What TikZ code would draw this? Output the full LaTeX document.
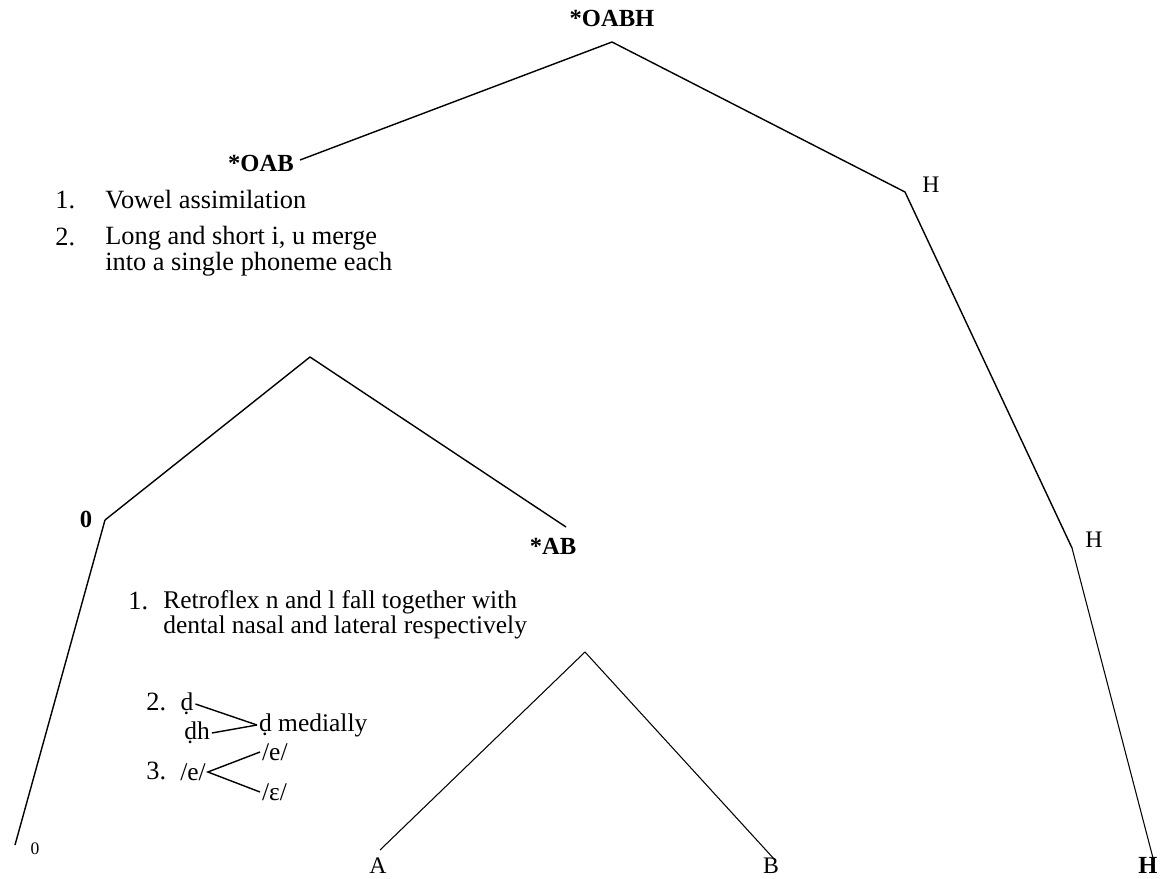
\documentclass[tikz,border=0pt]{standalone}
\usepackage{fontspec}
\setmainfont{Liberation Serif}
\usetikzlibrary{positioning}

\begin{document}
\begin{tikzpicture}[
        x=0.02cm, y=-0.02cm,
        branch/.style={thick, line join=round},
        twig/.style={semithick},
        lbl/.style={inner sep=1pt, font=\fontsize{13.5}{12}\selectfont},
        blbl/.style={inner sep=1pt, font=\fontsize{14}{12}\selectfont\bfseries},
        note/.style={anchor=west, align=left, inner sep=0pt, font=\fontsize{15}{13}\selectfont},
        phon/.style={inner sep=1pt, font=\fontsize{14.5}{12}\selectfont}
    ]
    \useasboundingbox (0,0) rectangle (1160,879);

    % Junctions of the tree
    \coordinate (root) at (612,42);
    \coordinate (oabend) at (300,160);
    \coordinate (h1) at (905,192);
    \coordinate (h2) at (1072,548);
    \coordinate (h3) at (1153,858);
    \coordinate (oab) at (310,357);
    \coordinate (zero) at (105,520);
    \coordinate (abend) at (566,527);
    \coordinate (oend) at (15,845);
    \coordinate (ab) at (585,652);
    \coordinate (aend) at (380,850);
    \coordinate (bend) at (775,860);

    % Labels
    \node[blbl] (oabhlbl) at (612,18) {*OABH};
    \node[blbl] (oablbl) at (261,163) {*OAB};
    \node[lbl] (h1lbl) at (931,185) {H};
    \node[lbl] (h2lbl) at (1094,540) {H};
    \node[blbl] (h3lbl) at (1148,865) {H};
    \node[blbl] (zerolbl) at (86,519) {0};
    \node[blbl] (ablbl) at (553,546) {*AB};
    \node[inner sep=1pt, font=\fontsize{10}{10}\selectfont] (olbl) at (35,849) {0};
    \node[lbl] (albl) at (378,866) {A};
    \node[lbl] (blbl) at (771,866) {B};

    % Branches
    \draw[branch] (oabend) -- (root) -- (h1) -- (h2);
    \draw[twig] (h2) -- (h3);
    \draw[branch] (zero) -- (oab) -- (abend);
    \draw[branch] (oend) -- (zero);
    \draw[twig] (aend) -- (ab) -- (bend);

    % Changes from *OAB
    \node[note] (num1) at (55,200) {1.};
    \node[note] (vowel) at (105,200) {Vowel assimilation};
    \node[note] (num2) at (55,237) {2.};
    \node[note, anchor=north west] (merge) at (105,226) {Long and short i, u merge\\into a single phoneme each};

    % Changes from *AB
    \node[note] (numa) at (128,601) {1.};
    \node[note, anchor=north west, font=\fontsize{14.5}{13}\selectfont] (retro) at (163,590) {Retroflex n and l fall together with\\dental nasal and lateral respectively};
    \node[note] (numb) at (146,702) {2.};
    \node[phon] (dd) at (187,704) {\d{d}};
    \node[phon] (ddh) at (197,733) {\d{d}h};
    \node[phon, anchor=west] (ddmed) at (257,725) {\d{d} medially};
    \draw[thick] (dd.east) -- (ddmed.west);
    \draw[thick] (ddh.east) -- (ddmed.west);
    \node[note] (numc) at (146,771) {3.};
    \node[phon] (ee) at (193,772) {/e/};
    \node[phon, anchor=west] (eup) at (260,752) {/e/};
    \node[phon, anchor=west] (elow) at (260,792) {/ε/};
    \draw[thick] (eup.west) -- (ee.east) -- (elow.west);

\end{tikzpicture}
\end{document}
